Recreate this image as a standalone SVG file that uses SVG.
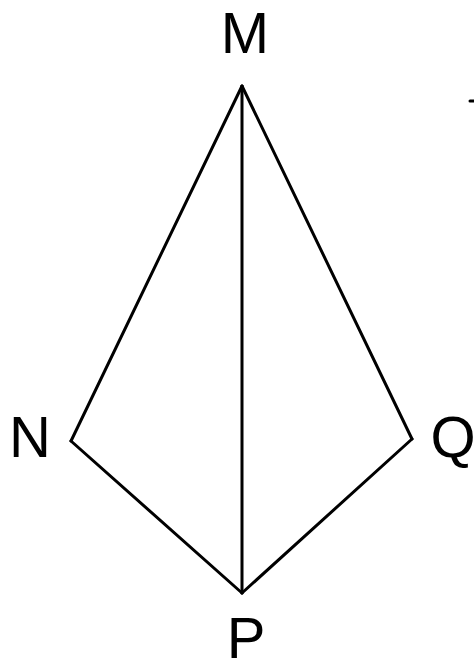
<svg xmlns="http://www.w3.org/2000/svg" width="474" height="660" viewBox="0 0 474 660">
<style>
.e{stroke:#000;stroke-width:3;fill:none;stroke-linecap:round;stroke-linejoin:round}
.l{font-family:"Liberation Sans",Arial,sans-serif;font-size:58px;fill:#000;text-anchor:middle}
</style>
<rect width="474" height="660" fill="#fff"/>
<g id="connectors">
<line class="e" x1="242" y1="86" x2="71" y2="441"/>
<line class="e" x1="71" y1="441" x2="242" y2="593"/>
<line class="e" x1="242" y1="593" x2="412" y2="439"/>
<line class="e" x1="412" y1="439" x2="242" y2="86"/>
<line class="e" x1="242" y1="86" x2="242" y2="593"/>
<line class="e" x1="470" y1="101" x2="474" y2="101"/>
</g>
<g id="M"><text class="l" x="245" y="53">M</text></g>
<g id="N"><text class="l" x="30" y="457">N</text></g>
<g id="Q"><text class="l" x="453" y="457">Q</text></g>
<g id="P"><text class="l" x="246" y="658">P</text></g>
</svg>
